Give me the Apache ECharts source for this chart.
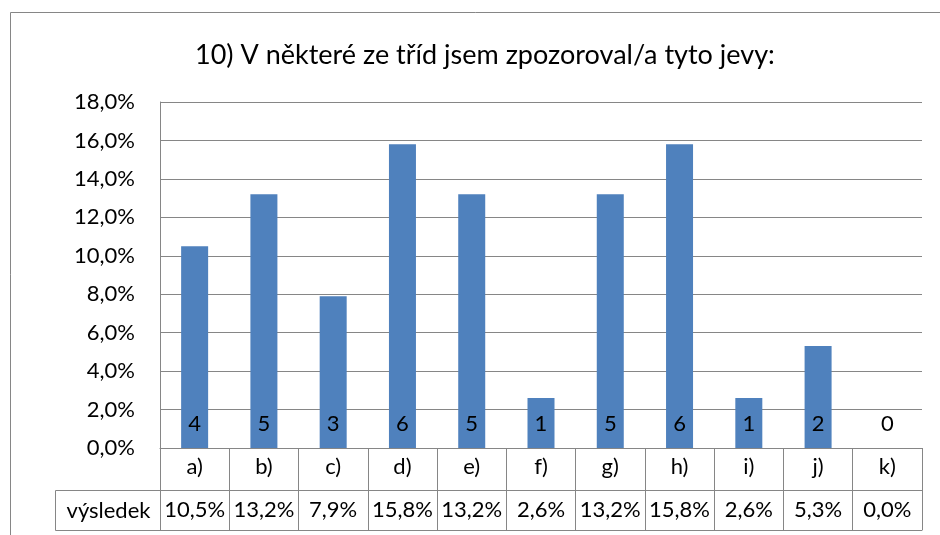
<!DOCTYPE html>
<html>
<head>
<meta charset="utf-8">
<script src="https://cdn.jsdelivr.net/npm/echarts@6/dist/echarts.min.js"></script>
<style>
html,body{margin:0;padding:0;background:#fff;}
#chart{width:940px;height:535px;}
</style>
</head>
<body>
<div id="chart"></div>
<script>
const titleText = '10) V některé ze tříd jsem zpozoroval/a tyto jevy:';
const categories = ['a)','b)','c)','d)','e)','f)','g)','h)','i)','j)','k)'];
const percents = [10.5, 13.2, 7.9, 15.8, 13.2, 2.6, 13.2, 15.8, 2.6, 5.3, 0.0];
const counts = [4, 5, 3, 6, 5, 1, 5, 6, 1, 2, 0];
const seriesName = 'výsledek';

const FONT = 'Lato';
const FS = 22;
const GRID_LEFT = 160, GRID_RIGHT = 18, GRID_TOP = 102, GRID_BOTTOM = 87;
const ROW1 = 42, ROW2 = 40;
const lineColor = '#868686';

const pctLabel = v => v.toFixed(1).replace('.', ',') + '%';

const chart = echarts.init(document.getElementById('chart'));
const H = 535;
const axisBottomY = H - GRID_BOTTOM;
chart.setOption({
  animation: false,
  textStyle: { fontFamily: FONT },
  title: {
    text: titleText, left: 190, top: 37,
    textStyle: { fontFamily: FONT, fontSize: 27, fontWeight: 'normal', color: '#000' }
  },
  grid: { left: GRID_LEFT, right: GRID_RIGHT, top: GRID_TOP, bottom: GRID_BOTTOM, containLabel: false },
  xAxis: [
    {
      type: 'category', data: categories, position: 'bottom',
      axisLine: { show: true, lineStyle: { color: lineColor, width: 1 } },
      axisTick: { show: true, interval: 0, length: ROW1, lineStyle: { color: lineColor } },
      axisLabel: { interval: 0, margin: 8, fontSize: FS, color: '#000', fontFamily: FONT }
    },
    {
      type: 'category', data: percents.map(pctLabel), position: 'bottom', offset: ROW1,
      axisLine: { show: true, lineStyle: { color: lineColor, width: 1 } },
      axisTick: { show: true, interval: 0, length: ROW2, lineStyle: { color: lineColor } },
      axisLabel: { interval: 0, margin: 9, fontSize: FS, color: '#000', fontFamily: FONT }
    },
    {
      type: 'category', data: categories, position: 'bottom', offset: ROW1 + ROW2,
      axisLine: { show: true, lineStyle: { color: lineColor, width: 1 } },
      axisTick: { show: false }, axisLabel: { show: false }
    }
  ],
  yAxis: {
    type: 'value', min: 0, max: 18, interval: 2,
    axisLine: { show: true, lineStyle: { color: lineColor } },
    axisTick: { show: false },
    splitLine: { show: true, lineStyle: { color: lineColor, width: 1 } },
    axisLabel: { formatter: v => pctLabel(v), fontSize: FS, color: '#000', margin: 25, fontFamily: FONT }
  },
  series: [{
    name: seriesName, type: 'bar', xAxisIndex: 0, barWidth: 27,
    data: percents,
    itemStyle: { color: '#4F81BD' },
    label: {
      show: true, position: 'insideBottom', distance: 13,
      formatter: p => String(counts[p.dataIndex]),
      fontSize: FS, color: '#000', fontFamily: FONT
    }
  }],
  graphic: [
    { type: 'rect', shape: { x: 10.5, y: 12.5, width: 1000, height: 600 }, style: { fill: 'none', stroke: lineColor, lineWidth: 1 }, silent: true },
    { type: 'polyline', shape: { points: [[GRID_LEFT, axisBottomY + ROW1 + 0.5], [55.5, axisBottomY + ROW1 + 0.5], [55.5, axisBottomY + ROW1 + ROW2 + 0.5], [GRID_LEFT, axisBottomY + ROW1 + ROW2 + 0.5]] }, style: { fill: 'none', stroke: lineColor, lineWidth: 1 }, silent: true },
    { type: 'text', style: { text: seriesName, x: (55 + GRID_LEFT) / 2 + 1, y: axisBottomY + ROW1 + ROW2 / 2 + 1, align: 'center', verticalAlign: 'middle', fontSize: FS, fontFamily: FONT, fill: '#000' }, silent: true }
  ]
});
</script>
</body>
</html>
